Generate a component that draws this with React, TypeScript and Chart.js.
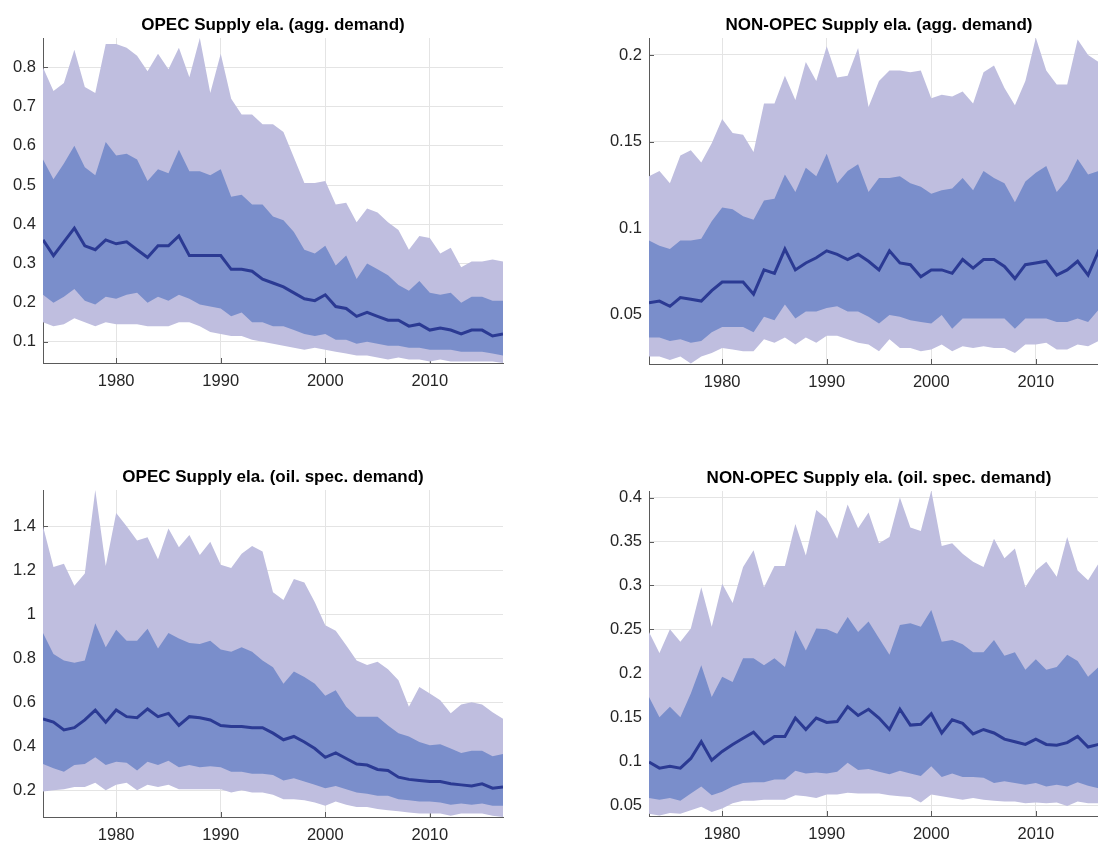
import React, { useEffect, useRef } from "react";
import { Chart, registerables } from "chart.js";

Chart.register(...registerables);

const years = [
  1973, 1974, 1975, 1976, 1977, 1978, 1979, 1980, 1981, 1982, 1983, 1984, 1985, 1986, 1987,
  1988, 1989, 1990, 1991, 1992, 1993, 1994, 1995, 1996, 1997, 1998, 1999, 2000, 2001, 2002,
  2003, 2004, 2005, 2006, 2007, 2008, 2009, 2010, 2011, 2012, 2013, 2014, 2015, 2016, 2017,
];
const xTicks = [1980, 1990, 2000, 2010];

// ---- OPEC, aggregate demand ----
const opecAggOuterUp = [0.80, 0.74, 0.76, 0.845, 0.75, 0.735, 0.86, 0.86, 0.85, 0.83, 0.79, 0.835, 0.795, 0.85, 0.775, 0.875, 0.735, 0.835, 0.72, 0.68, 0.68, 0.655, 0.655, 0.635, 0.57, 0.505, 0.505, 0.51, 0.45, 0.455, 0.405, 0.44, 0.43, 0.405, 0.385, 0.335, 0.37, 0.365, 0.325, 0.34, 0.29, 0.305, 0.305, 0.31, 0.305];
const opecAggInnerUp = [0.565, 0.515, 0.555, 0.60, 0.545, 0.525, 0.61, 0.575, 0.58, 0.565, 0.51, 0.54, 0.53, 0.59, 0.535, 0.535, 0.525, 0.54, 0.47, 0.475, 0.45, 0.45, 0.42, 0.41, 0.38, 0.335, 0.325, 0.345, 0.295, 0.32, 0.26, 0.30, 0.285, 0.27, 0.245, 0.23, 0.255, 0.225, 0.22, 0.225, 0.20, 0.215, 0.215, 0.205, 0.205];
const opecAggMedian = [0.36, 0.32, 0.355, 0.39, 0.345, 0.335, 0.36, 0.35, 0.355, 0.335, 0.315, 0.345, 0.345, 0.37, 0.32, 0.32, 0.32, 0.32, 0.285, 0.285, 0.28, 0.26, 0.25, 0.24, 0.225, 0.21, 0.205, 0.22, 0.19, 0.185, 0.165, 0.175, 0.165, 0.155, 0.155, 0.14, 0.145, 0.13, 0.135, 0.13, 0.12, 0.13, 0.13, 0.115, 0.12];
const opecAggInnerLow = [0.22, 0.20, 0.215, 0.235, 0.205, 0.195, 0.215, 0.21, 0.22, 0.225, 0.20, 0.215, 0.205, 0.22, 0.21, 0.195, 0.19, 0.185, 0.165, 0.175, 0.15, 0.15, 0.14, 0.14, 0.13, 0.12, 0.115, 0.12, 0.105, 0.105, 0.095, 0.10, 0.095, 0.09, 0.09, 0.085, 0.085, 0.08, 0.08, 0.08, 0.075, 0.075, 0.075, 0.07, 0.065];
const opecAggOuterLow = [0.15, 0.14, 0.145, 0.16, 0.15, 0.14, 0.15, 0.145, 0.145, 0.145, 0.14, 0.14, 0.14, 0.15, 0.15, 0.14, 0.125, 0.12, 0.115, 0.115, 0.105, 0.10, 0.095, 0.09, 0.085, 0.08, 0.085, 0.08, 0.075, 0.07, 0.065, 0.065, 0.06, 0.055, 0.06, 0.055, 0.055, 0.05, 0.055, 0.05, 0.05, 0.05, 0.05, 0.05, 0.046];
const opecAggYTicks = [0.1, 0.2, 0.3, 0.4, 0.5, 0.6, 0.7, 0.8];

// ---- NON-OPEC, aggregate demand ----
const nonAggOuterUp = [0.130, 0.133, 0.126, 0.142, 0.145, 0.138, 0.149, 0.163, 0.155, 0.154, 0.144, 0.172, 0.172, 0.188, 0.174, 0.196, 0.185, 0.205, 0.187, 0.188, 0.204, 0.170, 0.185, 0.191, 0.191, 0.190, 0.191, 0.175, 0.177, 0.176, 0.179, 0.172, 0.190, 0.194, 0.181, 0.171, 0.185, 0.210, 0.191, 0.183, 0.183, 0.209, 0.200, 0.196, 0.190];
const nonAggInnerUp = [0.093, 0.090, 0.088, 0.093, 0.093, 0.094, 0.104, 0.112, 0.111, 0.107, 0.105, 0.116, 0.117, 0.131, 0.121, 0.135, 0.130, 0.143, 0.126, 0.133, 0.137, 0.121, 0.129, 0.129, 0.130, 0.126, 0.124, 0.120, 0.122, 0.123, 0.129, 0.122, 0.133, 0.129, 0.126, 0.115, 0.127, 0.132, 0.136, 0.121, 0.128, 0.140, 0.131, 0.133, 0.130];
const nonAggMedian = [0.057, 0.058, 0.055, 0.060, 0.059, 0.058, 0.064, 0.069, 0.069, 0.069, 0.062, 0.076, 0.074, 0.088, 0.076, 0.080, 0.083, 0.087, 0.085, 0.082, 0.085, 0.081, 0.076, 0.087, 0.080, 0.079, 0.072, 0.076, 0.076, 0.074, 0.082, 0.077, 0.082, 0.082, 0.078, 0.071, 0.079, 0.080, 0.081, 0.073, 0.076, 0.081, 0.073, 0.087, 0.085];
const nonAggInnerLow = [0.037, 0.037, 0.035, 0.036, 0.034, 0.035, 0.040, 0.043, 0.043, 0.043, 0.040, 0.049, 0.047, 0.056, 0.048, 0.052, 0.052, 0.054, 0.055, 0.052, 0.052, 0.049, 0.045, 0.050, 0.049, 0.047, 0.046, 0.045, 0.050, 0.042, 0.048, 0.048, 0.048, 0.048, 0.048, 0.042, 0.048, 0.048, 0.048, 0.046, 0.046, 0.048, 0.046, 0.053, 0.050];
const nonAggOuterLow = [0.026, 0.026, 0.024, 0.026, 0.022, 0.026, 0.028, 0.031, 0.030, 0.029, 0.029, 0.036, 0.034, 0.037, 0.033, 0.037, 0.034, 0.038, 0.038, 0.036, 0.034, 0.033, 0.029, 0.036, 0.031, 0.031, 0.029, 0.030, 0.033, 0.029, 0.032, 0.031, 0.032, 0.031, 0.031, 0.028, 0.033, 0.033, 0.034, 0.030, 0.030, 0.033, 0.032, 0.035, 0.034];
const nonAggYTicks = [0.05, 0.1, 0.15, 0.2];

// ---- OPEC, oil-specific demand ----
const opecOilOuterUp = [1.40, 1.215, 1.23, 1.13, 1.185, 1.565, 1.22, 1.46, 1.40, 1.335, 1.35, 1.25, 1.39, 1.305, 1.36, 1.27, 1.33, 1.225, 1.21, 1.275, 1.31, 1.285, 1.10, 1.065, 1.16, 1.145, 1.055, 0.95, 0.925, 0.86, 0.79, 0.77, 0.785, 0.75, 0.70, 0.58, 0.67, 0.64, 0.61, 0.55, 0.59, 0.60, 0.59, 0.555, 0.525];
const opecOilInnerUp = [0.915, 0.82, 0.79, 0.78, 0.79, 0.96, 0.85, 0.93, 0.88, 0.88, 0.935, 0.845, 0.915, 0.89, 0.87, 0.865, 0.88, 0.84, 0.83, 0.85, 0.83, 0.79, 0.76, 0.685, 0.74, 0.715, 0.685, 0.63, 0.655, 0.58, 0.535, 0.535, 0.535, 0.495, 0.46, 0.445, 0.42, 0.405, 0.41, 0.39, 0.37, 0.38, 0.38, 0.355, 0.365];
const opecOilMedian = [0.525, 0.51, 0.475, 0.485, 0.52, 0.565, 0.51, 0.565, 0.535, 0.53, 0.57, 0.535, 0.55, 0.495, 0.535, 0.53, 0.52, 0.495, 0.49, 0.49, 0.485, 0.485, 0.46, 0.43, 0.445, 0.42, 0.39, 0.35, 0.37, 0.345, 0.32, 0.315, 0.295, 0.29, 0.26, 0.25, 0.245, 0.24, 0.24, 0.23, 0.225, 0.22, 0.23, 0.21, 0.215];
const opecOilInnerLow = [0.32, 0.30, 0.285, 0.315, 0.32, 0.35, 0.315, 0.33, 0.325, 0.29, 0.33, 0.315, 0.335, 0.305, 0.315, 0.305, 0.31, 0.305, 0.285, 0.285, 0.275, 0.275, 0.27, 0.245, 0.255, 0.24, 0.225, 0.21, 0.22, 0.205, 0.19, 0.185, 0.175, 0.175, 0.16, 0.155, 0.15, 0.15, 0.145, 0.135, 0.14, 0.135, 0.14, 0.13, 0.13];
const opecOilOuterLow = [0.195, 0.20, 0.205, 0.215, 0.215, 0.235, 0.20, 0.225, 0.235, 0.20, 0.225, 0.215, 0.225, 0.205, 0.205, 0.205, 0.205, 0.205, 0.19, 0.20, 0.19, 0.19, 0.18, 0.16, 0.16, 0.155, 0.145, 0.13, 0.15, 0.135, 0.125, 0.125, 0.115, 0.11, 0.105, 0.10, 0.095, 0.095, 0.095, 0.085, 0.095, 0.095, 0.095, 0.085, 0.079];
const opecOilYTicks = [0.2, 0.4, 0.6, 0.8, 1, 1.2, 1.4];

// ---- NON-OPEC, oil-specific demand ----
const nonOilOuterUp = [0.247, 0.223, 0.25, 0.236, 0.251, 0.298, 0.253, 0.302, 0.28, 0.321, 0.34, 0.298, 0.322, 0.322, 0.37, 0.334, 0.386, 0.376, 0.353, 0.392, 0.365, 0.383, 0.348, 0.355, 0.40, 0.366, 0.362, 0.408, 0.345, 0.348, 0.336, 0.327, 0.321, 0.353, 0.331, 0.342, 0.298, 0.317, 0.327, 0.31, 0.355, 0.317, 0.306, 0.325, 0.32];
const nonOilInnerUp = [0.173, 0.15, 0.162, 0.15, 0.177, 0.209, 0.173, 0.196, 0.19, 0.217, 0.217, 0.209, 0.217, 0.207, 0.249, 0.226, 0.251, 0.25, 0.245, 0.264, 0.247, 0.259, 0.24, 0.221, 0.255, 0.257, 0.253, 0.272, 0.236, 0.238, 0.233, 0.224, 0.224, 0.238, 0.22, 0.224, 0.204, 0.216, 0.204, 0.207, 0.221, 0.214, 0.196, 0.207, 0.20];
const nonOilMedian = [0.099, 0.092, 0.094, 0.092, 0.103, 0.122, 0.101, 0.111, 0.119, 0.126, 0.133, 0.12, 0.128, 0.128, 0.149, 0.136, 0.149, 0.144, 0.145, 0.162, 0.152, 0.159, 0.149, 0.136, 0.159, 0.141, 0.142, 0.154, 0.132, 0.147, 0.143, 0.131, 0.136, 0.132, 0.125, 0.122, 0.119, 0.125, 0.119, 0.118, 0.121, 0.128, 0.116, 0.119, 0.12];
const nonOilInnerLow = [0.058, 0.056, 0.058, 0.055, 0.063, 0.071, 0.061, 0.065, 0.071, 0.075, 0.076, 0.076, 0.079, 0.079, 0.089, 0.086, 0.087, 0.086, 0.088, 0.098, 0.09, 0.091, 0.088, 0.085, 0.089, 0.086, 0.083, 0.094, 0.082, 0.086, 0.082, 0.082, 0.081, 0.075, 0.077, 0.075, 0.073, 0.075, 0.071, 0.073, 0.071, 0.076, 0.072, 0.069, 0.068];
const nonOilOuterLow = [0.04, 0.038, 0.041, 0.04, 0.044, 0.048, 0.042, 0.046, 0.052, 0.055, 0.055, 0.056, 0.056, 0.056, 0.061, 0.06, 0.058, 0.062, 0.062, 0.064, 0.063, 0.063, 0.063, 0.061, 0.06, 0.059, 0.053, 0.062, 0.06, 0.058, 0.056, 0.058, 0.056, 0.055, 0.054, 0.054, 0.052, 0.053, 0.052, 0.053, 0.049, 0.054, 0.052, 0.052, 0.052];
const nonOilYTicks = [0.05, 0.1, 0.15, 0.2, 0.25, 0.3, 0.35, 0.4];

const panels = [
  { title: "OPEC Supply ela. (agg. demand)", left: 0, top: 0, height: 400, yMin: 0.046, yMax: 0.875, yTicks: opecAggYTicks, outerUp: opecAggOuterUp, innerUp: opecAggInnerUp, median: opecAggMedian, innerLow: opecAggInnerLow, outerLow: opecAggOuterLow },
  { title: "NON-OPEC Supply ela. (agg. demand)", left: 606, top: 0, height: 401, yMin: 0.0217, yMax: 0.2098, yTicks: nonAggYTicks, outerUp: nonAggOuterUp, innerUp: nonAggInnerUp, median: nonAggMedian, innerLow: nonAggInnerLow, outerLow: nonAggOuterLow },
  { title: "OPEC Supply ela. (oil. spec. demand)", left: 0, top: 452, height: 402, yMin: 0.079, yMax: 1.565, yTicks: opecOilYTicks, outerUp: opecOilOuterUp, innerUp: opecOilInnerUp, median: opecOilMedian, innerLow: opecOilInnerLow, outerLow: opecOilOuterLow },
  { title: "NON-OPEC Supply ela. (oil. spec. demand)", left: 606, top: 453, height: 400, yMin: 0.0375, yMax: 0.4075, yTicks: nonOilYTicks, outerUp: nonOilOuterUp, innerUp: nonOilInnerUp, median: nonOilMedian, innerLow: nonOilInnerLow, outerLow: nonOilOuterLow },
];

const LIGHT = "#bfbedf";
const DARK = "#7a8ecb";
const LINE = "#2b3a93";
const GRID = "#e4e4e4";
const AXIS = "#5a5a5a";
const TEXT = "#262626";
const FONT = "'Liberation Sans', Arial, Helvetica, sans-serif";

const CANVAS_W = 560;

type Panel = (typeof panels)[number];

function pts(vals: number[]) {
  return vals.map((v, i) => ({ x: years[i], y: v }));
}

function fmt(v: number) {
  return String(Number(v.toFixed(4)));
}

const decorPlugin = {
  id: "decor",
  beforeDatasetsDraw(chart: any) {
    const { ctx, chartArea, scales } = chart;
    ctx.save();
    ctx.strokeStyle = AXIS;
    ctx.lineWidth = 1;
    ctx.beginPath();
    for (const t of scales.y.ticks) {
      const y = Math.round(scales.y.getPixelForValue(t.value)) + 0.5;
      ctx.moveTo(chartArea.left, y);
      ctx.lineTo(chartArea.left + 5, y);
    }
    for (const t of scales.x.ticks) {
      const x = Math.round(scales.x.getPixelForValue(t.value)) + 0.5;
      ctx.moveTo(x, chartArea.bottom);
      ctx.lineTo(x, chartArea.bottom - 5);
    }
    ctx.stroke();
    ctx.restore();
  },
  afterDraw(chart: any) {
    const { ctx, chartArea } = chart;
    const title = chart.options.plugins.decor.title;
    ctx.save();
    ctx.font = `bold 17px ${FONT}`;
    ctx.fillStyle = "#000";
    ctx.textAlign = "center";
    ctx.textBaseline = "middle";
    ctx.fillText(title, (chartArea.left + chartArea.right) / 2, chartArea.top - 13);
    ctx.restore();
  },
};

function PanelChart({ p }: { p: Panel }) {
  const ref = useRef<HTMLCanvasElement | null>(null);
  useEffect(() => {
    if (!ref.current) return;
    const chart = new Chart(ref.current, {
      type: "line",
      data: {
        datasets: [
          { data: pts(p.median), borderColor: LINE, borderWidth: 3, pointRadius: 0, fill: false, order: 0 },
          { data: pts(p.innerUp), borderWidth: 0, borderColor: "rgba(0,0,0,0)", backgroundColor: DARK, pointRadius: 0, fill: 2, order: 1 },
          { data: pts(p.innerLow), borderWidth: 0, borderColor: "rgba(0,0,0,0)", pointRadius: 0, fill: false, order: 1 },
          { data: pts(p.outerUp), borderWidth: 0, borderColor: "rgba(0,0,0,0)", backgroundColor: LIGHT, pointRadius: 0, fill: 4, order: 2 },
          { data: pts(p.outerLow), borderWidth: 0, borderColor: "rgba(0,0,0,0)", pointRadius: 0, fill: false, order: 2 },
        ],
      },
      options: {
        animation: false,
        responsive: false,
        devicePixelRatio: 1,
        events: [],
        layout: { padding: { top: 38, right: 57, left: 0, bottom: 0 } },
        elements: { line: { tension: 0 } },
        plugins: {
          legend: { display: false },
          tooltip: { enabled: false },
          title: { display: false },
          decor: { title: p.title },
        } as any,
        scales: {
          x: {
            type: "linear",
            min: 1973,
            max: 2017,
            afterBuildTicks: (s: any) => {
              s.ticks = xTicks.map((v) => ({ value: v }));
            },
            afterFit: (s: any) => {
              s.height = 37;
            },
            grid: { color: GRID, drawTicks: false },
            border: { color: AXIS, width: 1 },
            ticks: { padding: 9, color: TEXT, font: { family: FONT, size: 16.5 }, maxRotation: 0, callback: (v: any) => String(v) },
          },
          y: {
            type: "linear",
            min: p.yMin,
            max: p.yMax,
            afterBuildTicks: (s: any) => {
              s.ticks = p.yTicks.map((v) => ({ value: v }));
            },
            afterFit: (s: any) => {
              s.width = 43;
            },
            grid: { color: GRID, drawTicks: false },
            border: { color: AXIS, width: 1 },
            ticks: { padding: 7, color: TEXT, font: { family: FONT, size: 16.5 }, callback: (v: any) => fmt(Number(v)) },
          },
        },
      },
      plugins: [decorPlugin],
    } as any);
    return () => chart.destroy();
  }, [p]);
  return (
    <canvas
      ref={ref}
      width={CANVAS_W}
      height={p.height}
      style={{ position: "absolute", left: p.left, top: p.top, width: CANVAS_W, height: p.height }}
    />
  );
}

export default function App() {
  return (
    <div
      style={{
        position: "fixed",
        left: 0,
        top: 0,
        width: 1098,
        height: 843,
        overflow: "hidden",
        background: "#fff",
      }}
    >
      {panels.map((p, i) => (
        <PanelChart key={i} p={p} />
      ))}
    </div>
  );
}
